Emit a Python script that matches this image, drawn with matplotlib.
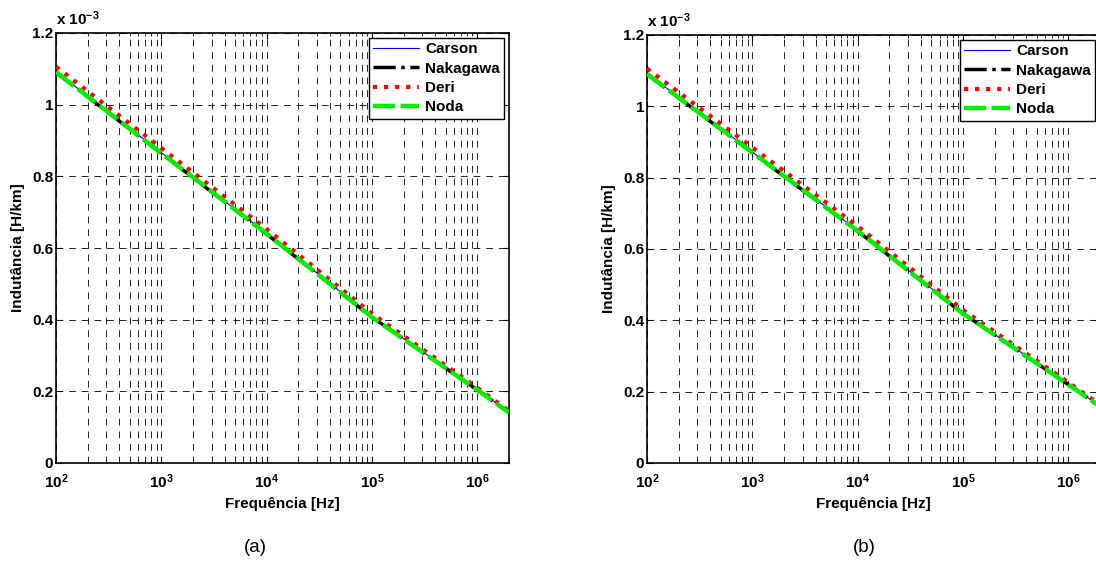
import numpy as np
import matplotlib
matplotlib.use('Agg')
import matplotlib.pyplot as plt
from matplotlib.ticker import FixedLocator, FuncFormatter, LogLocator, NullFormatter

plt.rcParams['font.family'] = ['Liberation Sans', 'DejaVu Sans']
plt.rcParams['font.weight'] = 'bold'
plt.rcParams['mathtext.fontset'] = 'custom'
plt.rcParams['mathtext.rm'] = 'Liberation Sans:bold'
plt.rcParams['mathtext.bf'] = 'Liberation Sans:bold'
plt.rcParams['mathtext.it'] = 'Liberation Sans:bold'

# frequencias [Hz]
freq = [1e2, 1e3, 1e4, 1e5, 1e6, 2e6]

# indutancia [x 1e-3 H/km] - caso (a)
carson_a = [1.092, 0.866, 0.641, 0.408, 0.205, 0.142]
nakagawa_a = [1.090, 0.864, 0.639, 0.407, 0.204, 0.141]
deri_a = [1.106, 0.879, 0.653, 0.417, 0.210, 0.145]
noda_a = [1.091, 0.865, 0.640, 0.407, 0.204, 0.141]

# caso (b)
carson_b = [1.092, 0.872, 0.652, 0.420, 0.221, 0.160]
nakagawa_b = [1.090, 0.870, 0.650, 0.419, 0.220, 0.159]
deri_b = [1.106, 0.885, 0.664, 0.429, 0.226, 0.164]
noda_b = [1.091, 0.871, 0.651, 0.419, 0.220, 0.159]

names = ['Carson', 'Nakagawa', 'Deri', 'Noda']
yticks = [0, 0.2, 0.4, 0.6, 0.8, 1.0, 1.2]
ytick_labels = ['0', '0.2', '0.4', '0.6', '0.8', '1', '1.2']

fig = plt.figure(figsize=(10.96, 5.74), dpi=100)
fs = 11


def desenha(ax, carson, nakagawa, deri, noda, letra, xc):
    ax.plot(freq, carson, color='b', lw=0.8, label=names[0], zorder=3)
    ax.plot(freq, nakagawa, color='k', ls='-.', lw=2.5, label=names[1], zorder=3)
    ax.plot(freq, deri, color='r', ls=':', lw=3, label=names[2], zorder=4)
    ax.plot(freq, noda, color='#00ee00', ls='--', lw=3.2, label=names[3], zorder=5,
            dashes=(5, 1.2))
    ax.set_xscale('log')
    ax.set_xlim(1e2, 2e6)
    ax.set_ylim(0, 1.2)
    ax.set_yticks(yticks)
    ax.set_yticklabels(ytick_labels)
    ax.xaxis.set_major_locator(FixedLocator([1e2, 1e3, 1e4, 1e5, 1e6]))
    ax.xaxis.set_major_formatter(FuncFormatter(lambda v, p: r'$\mathbf{10^{%d}}$' % round(np.log10(v))))
    ax.xaxis.set_minor_locator(LogLocator(base=10, subs=np.arange(2, 10), numticks=20))
    ax.xaxis.set_minor_formatter(NullFormatter())
    ax.tick_params(which='both', direction='in', top=True, right=True, labelsize=fs)
    ax.tick_params(which='major', length=4, width=0.8)
    ax.tick_params(which='minor', length=2, width=0.6)
    ax.tick_params(axis='x', which='major', pad=7)
    ax.tick_params(axis='y', which='major', pad=2)
    ax.grid(True, which='major', axis='both', color='#222222', ls=(0, (7, 6)), lw=0.7)
    ax.grid(True, which='minor', axis='x', color='#222222', ls=(0, (7, 6)), lw=0.7)
    for s in ax.spines.values():
        s.set_linewidth(1.2)
    ax.set_xlabel('Frequência [Hz]', fontsize=fs, fontweight='bold', labelpad=4)
    ax.set_ylabel('Indutância [H/km]', fontsize=fs, fontweight='bold', labelpad=5)
    ax.text(0.0, 1.012, r'x 10$^{-3}$', transform=ax.transAxes, fontsize=fs,
            fontweight='bold', ha='left', va='bottom')
    leg = ax.legend(loc='upper right', fontsize=fs, fancybox=False, framealpha=1,
                    edgecolor='k', handlelength=3.0, borderaxespad=0.3,
                    labelspacing=0.35, handletextpad=0.4, borderpad=0.3)
    leg.get_frame().set_linewidth(1.0)
    fig.text(xc / 1096, 1 - 547 / 574, letra, fontsize=13.5, fontweight='normal',
             ha='center', va='center')


ax1 = fig.add_axes([56 / 1096, 111 / 574, 453 / 1096, 430 / 574])
desenha(ax1, carson_a, nakagawa_a, deri_a, noda_a, '(a)', 255)

ax2 = fig.add_axes([647 / 1096, 111 / 574, 453 / 1096, 428 / 574])
desenha(ax2, carson_b, nakagawa_b, deri_b, noda_b, '(b)', 864)

fig.savefig('out.png', dpi=100)
